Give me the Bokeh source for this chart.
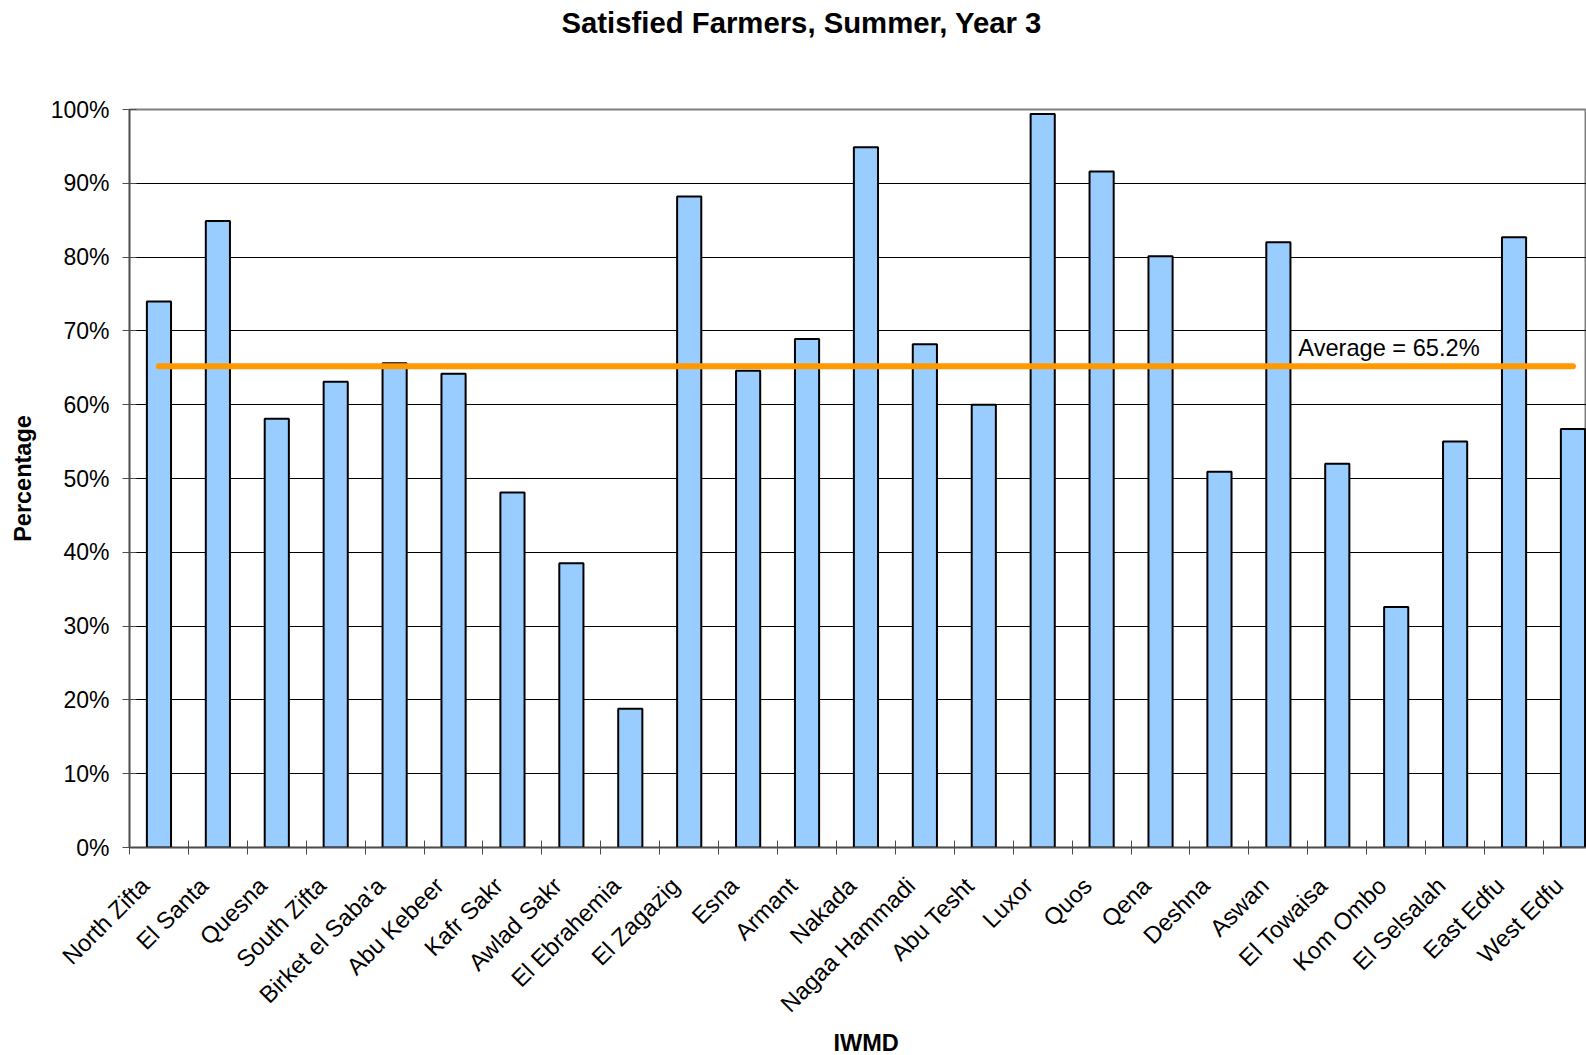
import math
from bokeh.plotting import figure
from bokeh.models import FixedTicker, NumeralTickFormatter, Range1d, Label, Title, LinearAxis
from bokeh.embed import file_html
from bokeh.resources import INLINE

# ---- data ----
districts = ["North Zifta", "El Santa", "Quesna", "South Zifta", "Birket el Saba'a",
             "Abu Kebeer", "Kafr Sakr", "Awlad Sakr", "El Ebrahemia", "El Zagazig",
             "Esna", "Armant", "Nakada", "Nagaa Hammadi", "Abu Tesht", "Luxor",
             "Quos", "Qena", "Deshna", "Aswan", "El Towaisa", "Kom Ombo",
             "El Selsalah", "East Edfu", "West Edfu"]
satisfied = [0.740, 0.849, 0.581, 0.631, 0.656, 0.642, 0.481, 0.385, 0.188, 0.882,
             0.646, 0.689, 0.949, 0.682, 0.600, 0.994, 0.916, 0.801, 0.509, 0.820,
             0.520, 0.326, 0.550, 0.827, 0.567]
average = 0.652
y_ticks = [0.0, 0.1, 0.2, 0.3, 0.4, 0.5, 0.6, 0.7, 0.8, 0.9, 1.0]

title_text = "Satisfied Farmers, Summer, Year 3"
x_title = "IWMD"
y_title = "Percentage"

FONT = "Liberation Sans"
AXIS_COL = "#4d4d4d"

positions = list(range(1, len(districts) + 1))
boundaries = [i + 0.5 for i in range(0, len(districts) + 1)]

X_START, X_END = 0.5, 25.23
LABEL_SHIFT = 0.24  # labels sit slightly left of the bar centres

p = figure(width=1586, height=1055, title=None,
           x_range=Range1d(X_START, X_END), y_range=Range1d(0, 1),
           output_backend="svg", toolbar_location=None,
           min_border_left=129, min_border_right=0,
           min_border_top=0, min_border_bottom=208)
p.extra_x_ranges = {"labels": Range1d(X_START + LABEL_SHIFT, X_END + LABEL_SHIFT)}

p.background_fill_color = "white"
p.border_fill_color = "white"
p.outline_line_color = "#808080"
p.outline_line_width = 2

# bars
p.vbar(x=positions, top=satisfied, width=0.41, fill_color="#99CCFF",
       line_color="black", line_width=2)

# average line
p.line(x=[positions[0], positions[-1]], y=[average, average],
       line_color="#FF9900", line_width=6, line_cap="round")

p.add_layout(Label(x=positions[19], y=average, x_offset=20, y_offset=18,
                   text=f"Average = {average * 100:.1f}%",
                   text_font=FONT, text_font_size="23.6px",
                   text_baseline="alphabetic", text_color="black"))

# grid
p.xgrid.visible = False
p.ygrid.ticker = FixedTicker(ticks=y_ticks[1:-1])
p.ygrid.grid_line_color = "black"
p.ygrid.grid_line_width = 1

# x axis: line + category boundary ticks only
xa = p.xaxis[0]
xa.ticker = FixedTicker(ticks=[], minor_ticks=boundaries)
xa.major_tick_line_color = None
xa.major_tick_in = 0
xa.major_tick_out = 0
xa.major_label_standoff = 0
xa.minor_tick_line_color = AXIS_COL
xa.minor_tick_in = 7
xa.minor_tick_out = 7
xa.axis_line_color = AXIS_COL
xa.axis_line_width = 1.5

# second x axis carrying the category names
xl = LinearAxis(x_range_name="labels")
xl.ticker = FixedTicker(ticks=positions)
xl.major_label_overrides = {pos: name for pos, name in zip(positions, districts)}
xl.major_label_orientation = math.pi / 4
xl.axis_line_color = None
xl.major_tick_line_color = None
xl.minor_tick_line_color = None
xl.major_tick_in = 0
xl.major_tick_out = 0
xl.major_label_standoff = 27
xl.major_label_text_font = FONT
xl.major_label_text_font_size = "23.8px"
xl.major_label_text_color = "black"
p.add_layout(xl, "below")

# x axis title, centred on the full (uncropped) plot area
p.add_layout(Title(text=x_title, align="left", offset=704, vertical_align="bottom",
                   standoff=-4, text_font=FONT, text_font_size="23.5px",
                   text_font_style="bold", text_color="black"), "below")

# y axis
ya = p.yaxis[0]
ya.ticker = FixedTicker(ticks=y_ticks)
ya.formatter = NumeralTickFormatter(format="0%")
ya.major_tick_in = 7
ya.major_tick_out = 7
ya.major_tick_line_color = AXIS_COL
ya.minor_tick_line_color = None
ya.axis_line_color = AXIS_COL
ya.axis_line_width = 1.5
ya.major_label_standoff = 13
ya.major_label_text_font = FONT
ya.major_label_text_font_size = "23px"
ya.major_label_text_color = "black"
ya.axis_label = y_title
ya.axis_label_text_font = FONT
ya.axis_label_text_font_size = "23.5px"
ya.axis_label_text_font_style = "bold"
ya.axis_label_text_color = "black"
ya.axis_label_standoff = 12

# titles (spacer nearest the frame, then the main title)
p.add_layout(Title(text=" ", text_font_size="10px", standoff=50.5), "above")
p.add_layout(Title(text=title_text, align="left", offset=432, vertical_align="top",
                   standoff=10, text_font=FONT, text_font_size="29.3px",
                   text_font_style="bold", text_color="black"), "above")

open("out.html", "w").write(file_html(p, INLINE))
